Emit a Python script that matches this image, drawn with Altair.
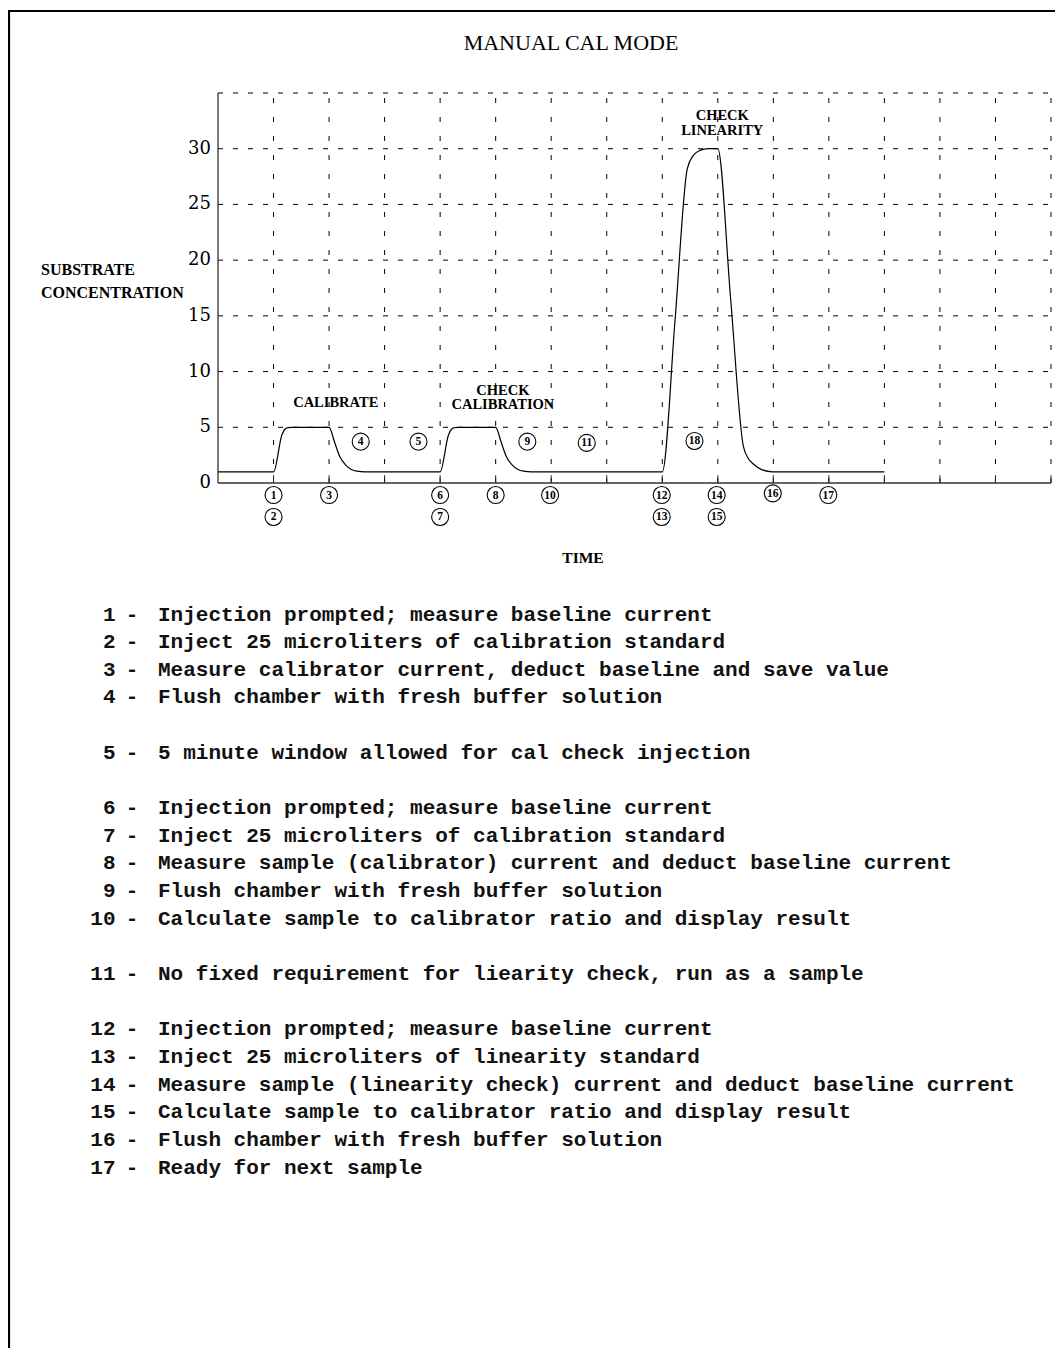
import altair as alt
import pandas as pd

# ---------------- data ----------------
# curve (time units, concentration)
curve_t = [0.0, 1.0, 1.15, 1.2, 1.26, 1.33, 2.0, 2.1, 2.19, 2.3, 2.4, 2.5, 2.65,
           4.0, 4.15, 4.2, 4.26, 4.33, 5.0, 5.1, 5.19, 5.3, 5.4, 5.5, 5.65,
           8.0, 8.23, 8.45, 8.56, 8.68, 8.83, 9.0, 9.23, 9.46, 9.55, 9.64, 9.79, 9.99, 12.0]
curve_c = [1.0, 1.0, 4.3, 4.8, 4.97, 5.0, 5.0, 3.65, 2.4, 1.6, 1.22, 1.06, 1.0,
           1.0, 4.3, 4.8, 4.97, 5.0, 5.0, 3.65, 2.4, 1.6, 1.22, 1.06, 1.0,
           1.0, 14.6, 28.2, 29.4, 29.85, 30.0, 30.0, 16.6, 3.3, 2.2, 1.7, 1.2, 1.0, 1.0]

x_grid = [1, 2, 3, 4, 5, 6, 7, 8, 9, 10, 11, 12, 13, 14, 15]
y_grid = [5, 10, 15, 20, 25, 30, 35]
y_tick_labels = [0, 5, 10, 15, 20, 25, 30]

marker_labels = ["1", "2", "3", "4", "5", "6", "7", "8", "9", "10",
                 "11", "12", "13", "14", "15", "16", "17", "18"]
marker_t = [1.0, 1.0, 2.0, 2.57, 3.61, 4.0, 4.0, 5.0, 5.57, 5.98,
            6.64, 7.99, 7.99, 8.98, 8.98, 9.99, 10.99, 8.58]
marker_c = [-1.08, -3.05, -1.08, 3.71, 3.71, -1.08, -3.05, -1.08, 3.71, -1.08,
            3.6, -1.08, -3.05, -1.08, -3.05, -0.93, -1.08, 3.77]

annot_text = ["CALIBRATE", "CHECK", "CALIBRATION", "CHECK", "LINEARITY"]
annot_t = [2.12, 5.13, 5.13, 9.08, 9.08]
annot_c = [7.18, 8.26, 7.0, 32.9, 31.6]

leg_nums = ["1", "2", "3", "4", "5", "6", "7", "8", "9", "10", "11",
            "12", "13", "14", "15", "16", "17"]
leg_text = [
    "Injection prompted; measure baseline current",
    "Inject 25 microliters of calibration standard",
    "Measure calibrator current, deduct baseline and save value",
    "Flush chamber with fresh buffer solution",
    "5 minute window allowed for cal check injection",
    "Injection prompted; measure baseline current",
    "Inject 25 microliters of calibration standard",
    "Measure sample (calibrator) current and deduct baseline current",
    "Flush chamber with fresh buffer solution",
    "Calculate sample to calibrator ratio and display result",
    "No fixed requirement for liearity check, run as a sample",
    "Injection prompted; measure baseline current",
    "Inject 25 microliters of linearity standard",
    "Measure sample (linearity check) current and deduct baseline current",
    "Calculate sample to calibrator ratio and display result",
    "Flush chamber with fresh buffer solution",
    "Ready for next sample",
]
leg_rows = [0, 1, 2, 3, 5, 7, 8, 9, 10, 11, 13, 15, 16, 17, 18, 19, 20]

# ---------------- scales ----------------
W, H = 1047, 1340
xs = alt.Scale(domain=[0, 15], range=[210, 1043], nice=False, zero=False)
ys = alt.Scale(domain=[0, 35], range=[475, 85], nice=False, zero=False)

SERIF = "Liberation Serif"

df_curve = pd.DataFrame({"t": curve_t, "c": curve_c})
df_h = pd.DataFrame({"c": y_grid, "t0": 0, "t1": 15})
df_v = pd.DataFrame({"t": x_grid, "c0": 0, "c1": 35})
df_tick = pd.DataFrame({"t": x_grid, "c0": 0, "c1": 0.7})
df_yl = pd.DataFrame({"c": y_tick_labels, "t": 0, "lab": [str(v) for v in y_tick_labels]})
df_mk = pd.DataFrame({"t": marker_t, "c": marker_c, "lab": marker_labels})
df_an = pd.DataFrame({"t": annot_t, "c": annot_c, "lab": annot_text})
df_yax = pd.DataFrame({"t": [0], "c0": [0], "c1": [35]})
df_xax = pd.DataFrame({"t0": [0], "t1": [15], "c": [0]})

hgrid = alt.Chart(df_h).mark_rule(color="black", strokeWidth=1, strokeDash=[5, 10]).encode(
    x=alt.X("t0:Q", scale=xs, axis=None), x2="t1:Q",
    y=alt.Y("c:Q", scale=ys, axis=None))
vgrid = alt.Chart(df_v).mark_rule(color="black", strokeWidth=1, strokeDash=[5, 14]).encode(
    x=alt.X("t:Q", scale=xs, axis=None),
    y=alt.Y("c0:Q", scale=ys, axis=None), y2="c1:Q")
ticks = alt.Chart(df_tick).mark_rule(color="#222", strokeWidth=1).encode(
    x=alt.X("t:Q", scale=xs, axis=None),
    y=alt.Y("c0:Q", scale=ys, axis=None), y2="c1:Q")
yaxis = alt.Chart(df_yax).mark_rule(color="#333", strokeWidth=1.3).encode(
    x=alt.X("t:Q", scale=xs, axis=None),
    y=alt.Y("c0:Q", scale=ys, axis=None), y2="c1:Q")
xaxis = alt.Chart(df_xax).mark_rule(color="#333", strokeWidth=1.3).encode(
    x=alt.X("t0:Q", scale=xs, axis=None), x2="t1:Q",
    y=alt.Y("c:Q", scale=ys, axis=None))
curve = alt.Chart(df_curve).mark_line(color="black", strokeWidth=1.2, interpolate="monotone").encode(
    x=alt.X("t:Q", scale=xs, axis=None),
    y=alt.Y("c:Q", scale=ys, axis=None))
ylabels = alt.Chart(df_yl).mark_text(align="right", baseline="middle", dx=-7,
                                     font="DejaVu Serif", fontSize=18, color="black").encode(
    x=alt.X("t:Q", scale=xs, axis=None),
    y=alt.Y("c:Q", scale=ys, axis=None), text="lab:N")
circles = alt.Chart(df_mk).mark_point(shape="circle", filled=False, size=290,
                                      color="black", strokeWidth=1.1, opacity=1).encode(
    x=alt.X("t:Q", scale=xs, axis=None),
    y=alt.Y("c:Q", scale=ys, axis=None))
clabels = alt.Chart(df_mk).mark_text(align="center", baseline="middle", font=SERIF,
                                     fontSize=11.5, fontWeight="bold", color="black", dy=0.5).encode(
    x=alt.X("t:Q", scale=xs, axis=None),
    y=alt.Y("c:Q", scale=ys, axis=None), text="lab:N")
annots = alt.Chart(df_an).mark_text(align="center", baseline="middle", font=SERIF,
                                    fontSize=14.5, fontWeight="bold", color="black").encode(
    x=alt.X("t:Q", scale=xs, axis=None),
    y=alt.Y("c:Q", scale=ys, axis=None), text="lab:N")

graph = alt.layer(hgrid, vgrid, ticks, yaxis, xaxis, curve, ylabels, circles, clabels, annots)

# ---------------- legend text ----------------
df_leg = pd.DataFrame({"num": leg_nums, "desc": leg_text, "row": leg_rows})
rows = alt.Scale(domain=[0, 20], range=[606.5, 1159.5], nice=False, zero=False)
base_leg = alt.Chart(df_leg).encode(y=alt.Y("row:Q", scale=rows, axis=None))
mono = dict(font="Liberation Mono", fontSize=21, fontWeight="bold", color="#111",
            baseline="alphabetic", dy=6)
leg_num = base_leg.mark_text(align="right", **mono).encode(x=alt.value(107.5), text="num:N")
leg_dash = base_leg.mark_text(align="center", **mono).encode(x=alt.value(124), text=alt.value("-"))
leg_desc = base_leg.mark_text(align="left", **mono).encode(x=alt.value(150), text="desc:N")
legend = alt.layer(leg_num, leg_dash, leg_desc)

# ---------------- titles and frame ----------------
title_df = pd.DataFrame({"lab": ["MANUAL CAL MODE"]})
title = alt.Chart(title_df).mark_text(align="center", baseline="middle", font=SERIF,
                                      fontSize=22, color="black").encode(
    x=alt.value(563), y=alt.value(35), text="lab:N")
ytitle_df = pd.DataFrame({"lab": ["SUBSTRATE", "CONCENTRATION"], "r": [0, 1]})
ytitle = alt.Chart(ytitle_df).mark_text(align="left", baseline="middle", font=SERIF,
                                        fontSize=16, fontWeight="bold", color="black").encode(
    x=alt.value(33),
    y=alt.Y("r:Q", scale=alt.Scale(domain=[0, 1], range=[262, 285]), axis=None),
    text="lab:N")
xtitle_df = pd.DataFrame({"lab": ["TIME"]})
xtitle = alt.Chart(xtitle_df).mark_text(align="center", baseline="middle", font=SERIF,
                                        fontSize=15.5, fontWeight="bold", color="black").encode(
    x=alt.value(575), y=alt.value(550), text="lab:N")
frame_top = alt.Chart(title_df).mark_rule(color="black", strokeWidth=2.2).encode(
    x=alt.value(0), x2=alt.value(W), y=alt.value(3))
frame_left = alt.Chart(title_df).mark_rule(color="black", strokeWidth=2.2).encode(
    x=alt.value(1), y=alt.value(2), y2=alt.value(H))

chart = alt.layer(graph, legend, ytitle, title, xtitle, frame_top, frame_left).resolve_scale(
    x="independent", y="independent"
).properties(
    width=W, height=H, autosize=alt.AutoSizeParams(type="none"), padding=0,
    background="white"
).configure_view(stroke=None)

chart.save("out.html", embed_options={"renderer": "svg", "actions": False})
